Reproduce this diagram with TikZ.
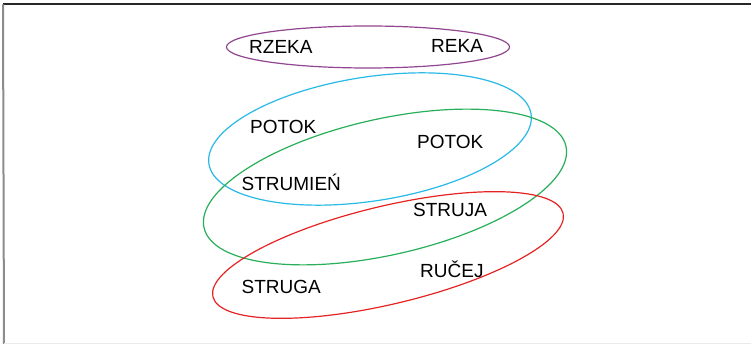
\documentclass[tikz,border=0pt]{standalone}
\usepackage{fontspec}
\setmainfont{Liberation Sans}
\usetikzlibrary{shapes.geometric}
\definecolor{cpurple}{RGB}{145,70,145}
\definecolor{ccyan}{RGB}{40,185,230}
\definecolor{cgreen}{RGB}{40,175,90}
\definecolor{cred}{RGB}{230,35,35}
\begin{document}
\begin{tikzpicture}[x=1pt,y=-1pt,
  ring/.style={draw, ellipse, line width=1.2pt, inner sep=0pt, outer sep=0pt},
  word/.style={anchor=base west, inner sep=0pt, font=\fontsize{19}{22}\selectfont}]
\useasboundingbox (0,0) rectangle (751,344);
\fill[white] (0,0) rectangle (751,344);
\coordinate (tl) at (3,4);
\coordinate (tr) at (751,4);
\coordinate (bl) at (4,344);
\coordinate (bbl) at (4,343);
\coordinate (bbr) at (751,343);
\draw[line width=1.4pt, black!85] (tl) -- (tr);
\draw[line width=2pt, black!45] ([yshift=-0.5pt]tl) -- (bl);
\draw[line width=1pt, black!8] (bbl) -- (bbr);

\node[ring, draw=cpurple, minimum width=283, minimum height=42] (purple) at (368,47) {};
\node[ring, draw=ccyan, minimum width=326, minimum height=124, rotate=8.8] (cyan) at (370,139) {};
\node[ring, draw=cgreen, minimum width=371, minimum height=136, rotate=12.7] (green) at (385,187) {};
\node[ring, draw=cred, minimum width=360, minimum height=98, rotate=13.4] (red) at (388,255) {};

\node[word] (rzeka) at (249,54) {RZEKA};
\node[word] (reka) at (431,53) {REKA};
\node[word] (potok1) at (250,134) {POTOK};
\node[word] (potok2) at (417,149) {POTOK};
\node[word] (strumien) at (241.5,191) {STRUMIEŃ};
\node[word] (struja) at (413,217) {STRUJA};
\node[word] (rucej) at (420,277) {RUČEJ};
\node[word] (struga) at (241.5,293) {STRUGA};
\end{tikzpicture}
\end{document}
